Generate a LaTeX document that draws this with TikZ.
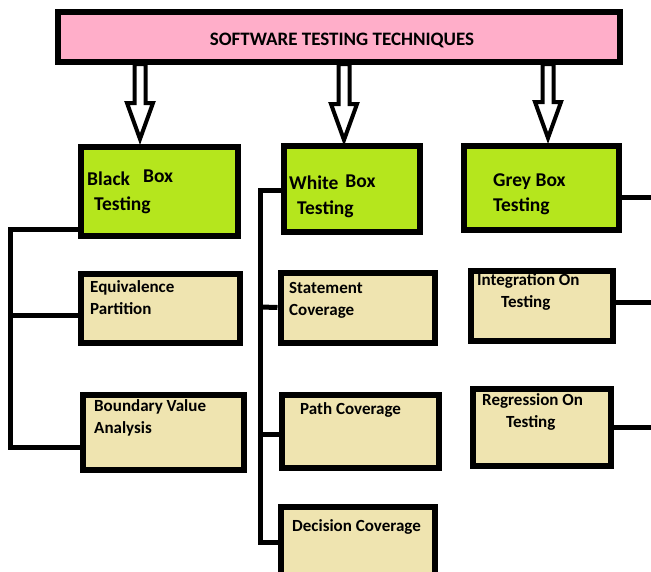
\documentclass[tikz,border=0pt]{standalone}
\usepackage{fontspec}
\setmainfont{Carlito}
\usetikzlibrary{positioning,calc}

\definecolor{titlepink}{HTML}{FFAEC9}
\definecolor{boxgreen}{HTML}{B5E61D}
\definecolor{boxtan}{HTML}{EFE4B0}

% hollow block arrow from #1 (tail) down to #2 (tip)
\newcommand{\hollowarrow}[2]{%
  \draw[blockarrow] ($(#1)+(-5.5,0)$) -- ($(#2)+(-5.5,-36)$) -- ($(#2)+(-13,-36)$) -- (#2)
    -- ($(#2)+(13,-36)$) -- ($(#2)+(5.5,-36)$) -- ($(#1)+(5.5,0)$) -- cycle;}

\begin{document}
\begin{tikzpicture}[x=1pt,y=-1pt,
  box/.style={rectangle,draw,line width=6pt,inner sep=0pt},
  mainbox/.style={box,fill=boxgreen},
  subbox/.style={box,fill=boxtan},
  maintext/.style={anchor=north west,inner sep=0pt,align=left,font=\fontsize{19.5}{25}\selectfont\bfseries},
  subtext/.style={anchor=north west,inner sep=0pt,align=left,font=\fontsize{17}{22}\selectfont\bfseries},
  bus/.style={line width=5pt},
  blockarrow/.style={line width=4pt,fill=white}]
\useasboundingbox (0,0) rectangle (651,571);

% title box
\node[box,fill=titlepink,minimum width=562pt,minimum height=50pt,name=title] at (338.5,37) {};
\node[font=\fontsize{19}{22}\selectfont\bfseries,name=titletext] at (342,40) {SOFTWARE TESTING TECHNIQUES};

% technique boxes
\node[mainbox,minimum width=157pt,minimum height=89pt,name=black] at (159,191) {};
\node[mainbox,minimum width=136pt,minimum height=86pt,name=white] at (351.5,189) {};
\node[mainbox,minimum width=155pt,minimum height=84pt,name=grey] at (541,188) {};

% methods
\node[subbox,minimum width=159pt,minimum height=69pt,name=eqv] at (160,308) {};
\node[subbox,minimum width=161pt,minimum height=75pt,name=bva] at (163,432) {};
\node[subbox,minimum width=154pt,minimum height=70pt,name=stmt] at (357.5,307.5) {};
\node[subbox,minimum width=157pt,minimum height=73pt,name=path] at (360,431) {};
\node[subbox,minimum width=154pt,minimum height=90pt,name=dec] at (357.5,552) {};
\node[subbox,minimum width=142pt,minimum height=70pt,name=integ] at (541.5,305.5) {};
\node[subbox,minimum width=138pt,minimum height=77pt,name=regr] at (541.5,427) {};

% texts
\node[maintext,name=blacktext] at (87,170) {Black\hspace{13pt}\raisebox{3pt}{Box}\\\hspace{7pt}Testing};
\node[maintext,name=whitetext] at (289,175) {White\hspace{7pt}\raisebox{2pt}{Box}\\\hspace{8pt}Testing};
\node[maintext,name=greytext] at (493,174) {Grey Box\\Testing};
\node[subtext,name=eqvtext] at (90,280) {Equivalence\\Partition};
\node[subtext,name=bvatext] at (94,399) {Boundary Value\\Analysis};
\node[subtext,name=stmttext] at (289,282) {Statement\\Coverage};
\node[subtext,name=pathtext] at (300,402) {Path Coverage};
\node[subtext,name=dectext] at (292,519) {Decision Coverage};
\node[subtext,name=integtext] at (477,273) {Integration On\\\hspace{24pt}Testing};
\node[subtext,name=regrtext] at (482,393) {Regression On\\\hspace{24pt}Testing};

% arrows from title
\coordinate (arrblack) at (140,64);
\coordinate (tipblack) at (140,139);
\coordinate (arrwhite) at (344,64);
\coordinate (tipwhite) at (344,140);
\coordinate (arrgrey) at (548,64);
\coordinate (tipgrey) at (548,138);
\hollowarrow{arrblack}{tipblack}
\hollowarrow{arrwhite}{tipwhite}
\hollowarrow{arrgrey}{tipgrey}

% black box bus
\coordinate (bustop) at (10.5,229);
\coordinate (busbot) at (10.5,450);
\draw[bus] (bustop) -- (busbot);
\draw[bus] ([xshift=-2.5pt]bustop) -- ([yshift=-38pt]black.west);
\draw[bus] (bustop |- 0,315) -- ([yshift=-7pt]eqv.west);
\draw[bus] (bustop |- 0,447) -- ([yshift=-15pt]bva.west);

% white box bus
\coordinate (wbustop) at (260.5,190);
\coordinate (wbusbot) at (260.5,542);
\draw[bus] (wbustop) -- (wbusbot);
\draw[bus] ([xshift=-2.5pt]wbustop) -- ([yshift=-1pt]white.west);
\draw[bus] (wbustop |- 0,307) -- (stmt.west);
\draw[bus] (wbustop |- 0,434) -- ([yshift=-3pt]path.west);
\draw[bus] ([xshift=-2.5pt]wbusbot) -- ([yshift=10pt]dec.west);

% grey box lines to the edge
\coordinate (edgegrey) at (655,197);
\coordinate (edgeinteg) at (655,302);
\coordinate (edgeregr) at (655,427);
\draw[bus] ([yshift=-9pt]grey.east) -- (edgegrey);
\draw[bus] ([yshift=3.5pt]integ.east) -- (edgeinteg);
\draw[bus] (regr.east) -- (edgeregr);
\end{tikzpicture}
\end{document}
